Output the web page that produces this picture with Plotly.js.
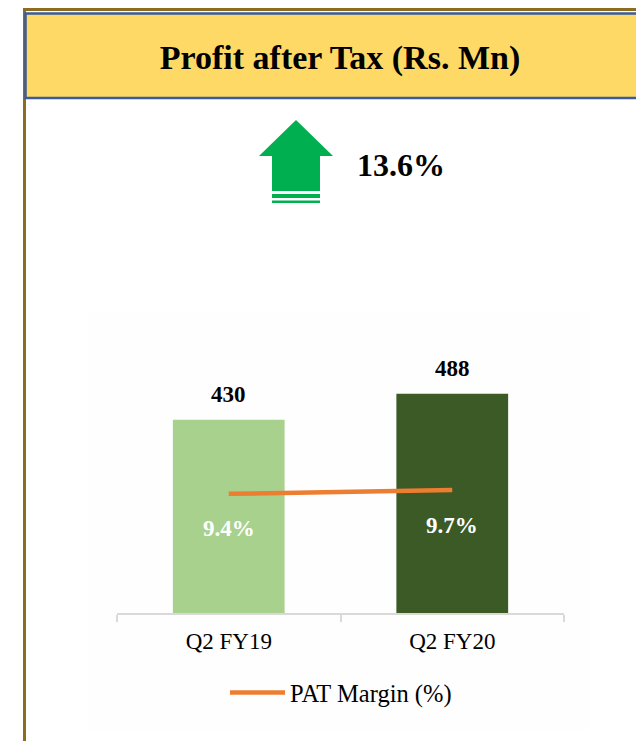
<!DOCTYPE html>
<html>
<head>
<meta charset="utf-8">
<script src="https://cdn.plot.ly/plotly-3.0.1.min.js"></script>
<style>html,body{margin:0;padding:0;background:#fff;}#chart{width:636px;height:741px;}</style>
</head>
<body>
<div id="chart"></div>
<script>
// ---- data ----
const categories = ["Q2 FY19", "Q2 FY20"];
const patValues = [430, 488];
const patMargin = [9.4, 9.7];
const marginLabels = ["9.4%", "9.7%"];
const growthLabel = "13.6%";
const barColors = ["#A9D18E", "#3B5A26"];
const chartTitle = "Profit after Tax (Rs. Mn)";
const legendName = "PAT Margin (%)";

// ---- helpers (pixel -> paper) ----
const W = 636, H = 741;
const px = x => x / W;
const py = y => 1 - y / H;
const pathFrom = pts => 'M' + pts.map(p => px(p[0]) + ',' + py(p[1])).join('L') + 'Z';

const serif = "Liberation Serif, Times New Roman, serif";

const traces = [
  {
    type: 'bar',
    x: categories,
    y: patValues,
    marker: {color: barColors},
    width: 0.5,
    showlegend: false,
    hoverinfo: 'skip'
  },
  {
    type: 'scatter',
    mode: 'lines',
    x: categories,
    y: patMargin,
    yaxis: 'y2',
    name: legendName,
    line: {color: '#ED7D31', width: 4.5},
    hoverinfo: 'skip'
  }
];

const annotations = [];
categories.forEach((c, i) => {
  annotations.push({
    x: c, y: patValues[i], xref: 'x', yref: 'y',
    text: '<b>' + patValues[i] + '</b>', showarrow: false,
    yshift: 25, yanchor: 'middle',
    font: {family: serif, size: 23, color: '#000'}
  });
  annotations.push({
    x: c, y: patMargin[i], xref: 'x', yref: 'y2',
    text: '<b>' + marginLabels[i] + '</b>', showarrow: false,
    yshift: -35, yanchor: 'middle',
    font: {family: serif, size: 23, color: '#fff'}
  });
});
annotations.push({
  xref: 'paper', yref: 'paper', x: px(355), y: py(165),
  xanchor: 'left', yanchor: 'middle', showarrow: false,
  text: '<b>' + growthLabel + '</b>',
  font: {family: serif, size: 32, color: '#000'}
});

const shapes = [
  // faint chart area background
  {type: 'rect', xref: 'paper', yref: 'paper', x0: px(88), x1: px(590), y0: py(730), y1: py(312),
   fillcolor: '#fefefe', line: {width: 0}, layer: 'below'},
  // gold frame
  {type: 'line', xref: 'paper', yref: 'paper', x0: px(23), x1: px(640), y0: py(9.5), y1: py(9.5),
   line: {color: '#8C6D1F', width: 3}},
  {type: 'line', xref: 'paper', yref: 'paper', x0: px(24.5), x1: px(24.5), y0: py(8), y1: py(745),
   line: {color: '#8C6D1F', width: 3}},
  // yellow header box
  {type: 'rect', xref: 'paper', yref: 'paper', x0: px(25.5), x1: px(645), y0: py(98), y1: py(13.5),
   fillcolor: '#FFD966', line: {color: '#3B5C9C', width: 2.5}},
  // green up arrow
  {type: 'path', xref: 'paper', yref: 'paper',
   path: pathFrom([[296,120],[333,156],[320,156],[320,191],[272,191],[272,156],[259,156]]),
   fillcolor: '#00B050', line: {width: 0}},
  {type: 'rect', xref: 'paper', yref: 'paper', x0: px(272), x1: px(320), y0: py(198), y1: py(194),
   fillcolor: '#00B050', line: {width: 0}},
  {type: 'rect', xref: 'paper', yref: 'paper', x0: px(272), x1: px(320), y0: py(203), y1: py(200.5),
   fillcolor: '#00B050', line: {width: 0}}
];

const layout = {
  width: W, height: H,
  margin: {l: 0, r: 0, t: 0, b: 0, pad: 0},
  paper_bgcolor: '#ffffff',
  plot_bgcolor: 'rgba(0,0,0,0)',
  title: {
    text: '<b>' + chartTitle + '</b>',
    font: {family: serif, size: 34, color: '#000'},
    x: px(340), xanchor: 'center', xref: 'paper',
    y: py(57), yanchor: 'middle', yref: 'paper'
  },
  bargap: 0.5,
  xaxis: {
    type: 'category',
    domain: [px(117), px(564)],
    range: [-0.5, 1.5],
    showline: true, linecolor: '#D9D9D9', linewidth: 2,
    ticks: 'outside', tickson: 'boundaries', ticklen: 7, tickcolor: '#D9D9D9', tickwidth: 2,
    ticklabelstandoff: 6,
    showgrid: false, zeroline: false,
    tickfont: {family: serif, size: 23, color: '#000'},
    fixedrange: true
  },
  yaxis: {
    domain: [py(613), py(312)],
    range: [0, 670],
    visible: false, showgrid: false, zeroline: false, fixedrange: true
  },
  yaxis2: {
    overlaying: 'y', side: 'right',
    range: [0, 23.75],
    visible: false, showgrid: false, zeroline: false, fixedrange: true
  },
  showlegend: true,
  legend: {
    orientation: 'h',
    x: px(225), xanchor: 'left',
    y: py(670), yanchor: 'top',
    itemwidth: 55,
    bgcolor: 'rgba(0,0,0,0)',
    font: {family: serif, size: 24.5, color: '#000'}
  },
  annotations: annotations,
  shapes: shapes
};

Plotly.newPlot('chart', traces, layout, {displayModeBar: false, staticPlot: true});
</script>
</body>
</html>
